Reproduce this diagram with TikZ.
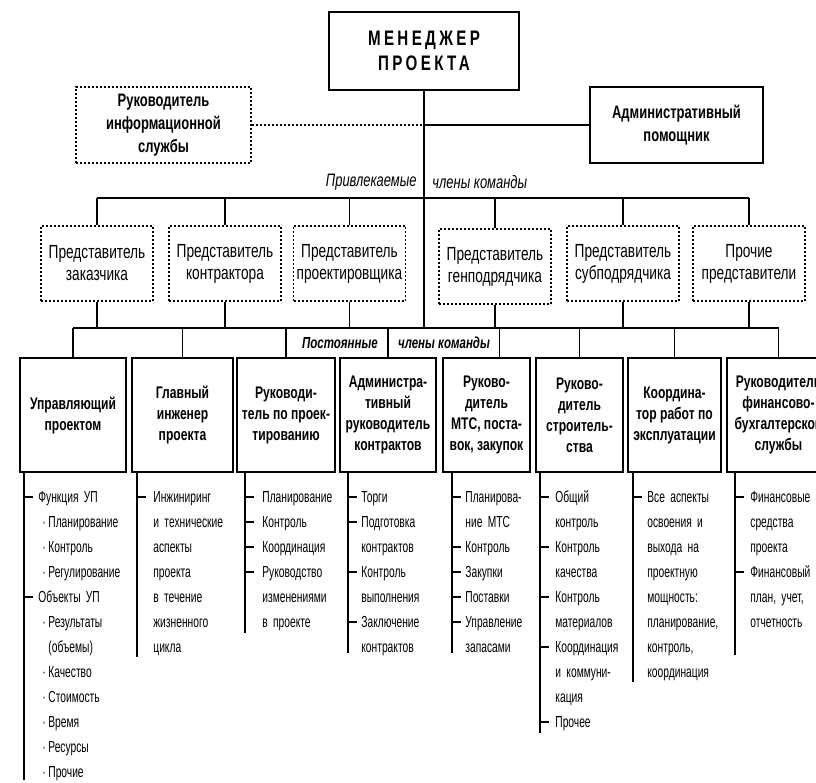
\documentclass[tikz,border=0pt]{standalone}
\usepackage{fontspec}
\setmainfont{Liberation Sans}[FakeStretch=0.72]
\newfontfamily\capsfont{Liberation Sans}[FakeStretch=0.72,LetterSpace=16]
\newfontfamily\listfont{Liberation Sans}[FakeStretch=0.64]

\begin{document}
\begin{tikzpicture}
    [x=0.5pt, y=-0.5pt,
    conn/.style={line width=0.7pt},
    dots/.style={line width=0.9pt, dash pattern=on 1pt off 1pt},
    topbox/.style={draw, line width=1pt, minimum width=95pt, minimum height=39pt,
      align=center, font={\capsfont\bfseries\fontsize{10.5}{12.5}\selectfont}},
    sidebox/.style={draw, line width=1pt, minimum width=86.5pt, minimum height=38pt,
      align=center, font={\bfseries\fontsize{9}{11.5}\selectfont}},
    repbox/.style={draw, dots, minimum width=56pt, minimum height=37.5pt,
      inner sep=1pt, align=center, font={\fontsize{9.5}{11}\selectfont}},
    headbox/.style={draw, line width=1pt, minimum height=57pt, inner sep=1pt,
      align=center, font={\bfseries\fontsize{8.4}{10.5}\selectfont}},
    duties/.style={anchor=base west, inner sep=0pt, text width=70pt, align=left,
      font={\listfont\fontsize{8}{12.5}\selectfont}},
    note/.style={inner sep=0pt, font={\itshape\fontsize{9}{10}\selectfont}},
    boldnote/.style={inner sep=0pt, font={\bfseries\itshape\fontsize{8}{10}\selectfont}}]
    \useasboundingbox (0,0) rectangle (816,783);
    \clip (0,0) rectangle (816,783);

    % top level
    \node[topbox] (mgr) at (424,51) {МЕНЕДЖЕР\\ПРОЕКТА};
    \node[sidebox, dots, minimum width=87.5pt] (info) at (163.5,125)
      {Руководитель\\информационной\\службы};
    \node[sidebox] (asst) at (676.5,125) {Административный\\помощник};
    \draw[dots] (info.east) -- (info.east -| mgr.south);
    \draw[conn] (info.east -| mgr.south) -- (asst.west);

    \coordinate (bus1) at (0,198);
    \coordinate (bus3) at (0,328);
    \draw[conn] (mgr.south) -- (mgr.south |- bus3);

    \node[note, anchor=east] (hired) at (417,182) {Привлекаемые};
    \node[note, anchor=west] (hiredb) at (432,182) {члены команды};

    % attracted members
    \node[repbox] (rep1) at (97,263.5) {Представитель\\заказчика};
    \node[repbox] (rep2) at (225,263.5) {Представитель\\контрактора};
    \node[repbox] (rep3) at (349.5,263.5) {Представитель\\проектировщика};
    \node[repbox] (rep4) at (495,266.5) {Представитель\\генподрядчика};
    \node[repbox] (rep5) at (623,263.5) {Представитель\\субподрядчика};
    \node[repbox] (rep6) at (749,263.5) {Прочие\\представители};

    \draw[conn] (rep1.north |- bus1) -- (rep6.north |- bus1)
      (rep1.north) -- (rep1.north |- bus1) (rep2.north) -- (rep2.north |- bus1)
      (rep3.north) -- (rep3.north |- bus1) (rep4.north) -- (rep4.north |- bus1)
      (rep5.north) -- (rep5.north |- bus1) (rep6.north) -- (rep6.north |- bus1);
    \draw[conn] (rep1.south) -- (rep1.south |- bus3) (rep2.south) -- (rep2.south |- bus3)
      (rep3.south) -- (rep3.south |- bus3) (rep4.south) -- (rep4.south |- bus3)
      (rep5.south) -- (rep5.south |- bus3) (rep6.south) -- (rep6.south |- bus3);

    % permanent members
    \node[headbox, minimum width=53pt] (head1) at (73,415) {Управляющий\\проектом};
    \node[headbox, minimum width=50.5pt] (head2) at (182.5,415) {Главный\\инженер\\проекта};
    \node[headbox, minimum width=49pt] (head3) at (286,415) {Руководи-\\тель по проек-\\тированию};
    \node[headbox, minimum width=48pt] (head4) at (388,415)
      {Администра-\\тивный\\руководитель\\контрактов};
    \node[headbox, minimum width=43.5pt] (head5) at (486.5,415)
      {Руково-\\дитель\\МТС, поста-\\вок, закупок};
    \node[headbox, minimum width=43.5pt] (head6) at (579.5,415)
      {Руково-\\дитель\\строитель-\\ства};
    \node[headbox, minimum width=46.5pt] (head7) at (674.5,415)
      {Координа-\\тор работ по\\эксплуатации};
    \node[headbox, minimum width=51.5pt] (head8) at (778.5,415)
      {Руководитель\\финансово-\\бухгалтерской\\службы};

    \draw[conn] (head1.north |- bus3) -- (head8.north |- bus3)
      (head1.north) -- (head1.north |- bus3) (head2.north) -- (head2.north |- bus3)
      (head3.north) -- (head3.north |- bus3) (head4.north) -- (head4.north |- bus3)
      ([xshift=6.5pt]head5.north) -- ([xshift=6.5pt]head5.north |- bus3)
      (head6.north) -- (head6.north |- bus3) (head7.north) -- (head7.north |- bus3)
      (head8.north) -- (head8.north |- bus3);

    \node[boldnote] (perm) at (340,343) {Постоянные};
    \node[boldnote] (permb) at (444,343) {члены команды};

    % duties
    \node[duties] (duty1) at (38,502) {Функция УП\\
      \hspace*{2pt}·\hspace{1.3pt}Планирование\\ \hspace*{2pt}·\hspace{1.3pt}Контроль\\
      \hspace*{2pt}·\hspace{1.3pt}Регулирование\\ Объекты УП\\
      \hspace*{2pt}·\hspace{1.3pt}Результаты\\ \hspace*{5pt}(объемы)\\
      \hspace*{2pt}·\hspace{1.3pt}Качество\\ \hspace*{2pt}·\hspace{1.3pt}Стоимость\\
      \hspace*{2pt}·\hspace{1.3pt}Время\\ \hspace*{2pt}·\hspace{1.3pt}Ресурсы\\
      \hspace*{2pt}·\hspace{1.3pt}Прочие};
    \node[duties] (duty2) at (153,502)
      {Инжиниринг\\и технические\\аспекты\\проекта\\в течение\\жизненного\\цикла};
    \node[duties] (duty3) at (262,502)
      {Планирование\\Контроль\\Координация\\Руководство\\изменениями\\в проекте};
    \node[duties] (duty4) at (361,502)
      {Торги\\Подготовка\\контрактов\\Контроль\\выполнения\\Заключение\\контрактов};
    \node[duties] (duty5) at (465,502)
      {Планирова-\\ние МТС\\Контроль\\Закупки\\Поставки\\Управление\\запасами};
    \node[duties] (duty6) at (555,502)
      {Общий\\контроль\\Контроль\\качества\\Контроль\\материалов\\Координация\\и коммуни-\\кация\\Прочее};
    \node[duties] (duty7) at (647,502)
      {Все аспекты\\освоения и\\выхода на\\проектную\\мощность:\\планирование,\\контроль,\\координация};
    \node[duties] (duty8) at (750,502)
      {Финансовые\\средства\\проекта\\Финансовый\\план, учет,\\отчетность};

    \coordinate (end1) at (24,780);
    \coordinate (end2) at (137,657);
    \coordinate (end3) at (245,633);
    \coordinate (end4) at (348,653);
    \coordinate (end5) at (452,653);
    \coordinate (end6) at (540,733);
    \coordinate (end7) at (633,682);
    \coordinate (end8) at (735,655);

    \draw[conn] (head1.south -| end1) -- (end1)
      (end1 |- 0,497) -- ++(9,0) (end1 |- 0,597) -- ++(9,0);
    \draw[conn] (head2.south -| end2) -- (end2)
      (end2 |- 0,497) -- ++(9,0);
    \draw[conn] (head3.south -| end3) -- (end3)
      (end3 |- 0,497) -- ++(9,0) (end3 |- 0,522) -- ++(9,0)
      (end3 |- 0,547) -- ++(9,0) (end3 |- 0,572) -- ++(9,0);
    \draw[conn] (head4.south -| end4) -- (end4)
      (end4 |- 0,497) -- ++(9,0) (end4 |- 0,522) -- ++(9,0)
      (end4 |- 0,572) -- ++(9,0) (end4 |- 0,622) -- ++(9,0);
    \draw[conn] (head5.south -| end5) -- (end5)
      (end5 |- 0,497) -- ++(9,0) (end5 |- 0,547) -- ++(9,0)
      (end5 |- 0,572) -- ++(9,0) (end5 |- 0,597) -- ++(9,0)
      (end5 |- 0,622) -- ++(9,0);
    \draw[conn] (head6.south -| end6) -- (end6)
      (end6 |- 0,497) -- ++(9,0) (end6 |- 0,547) -- ++(9,0)
      (end6 |- 0,597) -- ++(9,0) (end6 |- 0,647) -- ++(9,0)
      (end6 |- 0,722) -- ++(9,0);
    \draw[conn] (head7.south -| end7) -- (end7)
      (end7 |- 0,497) -- ++(9,0);
    \draw[conn] (head8.south -| end8) -- (end8)
      (end8 |- 0,497) -- ++(9,0) (end8 |- 0,572) -- ++(9,0);
  \end{tikzpicture}
\end{document}
